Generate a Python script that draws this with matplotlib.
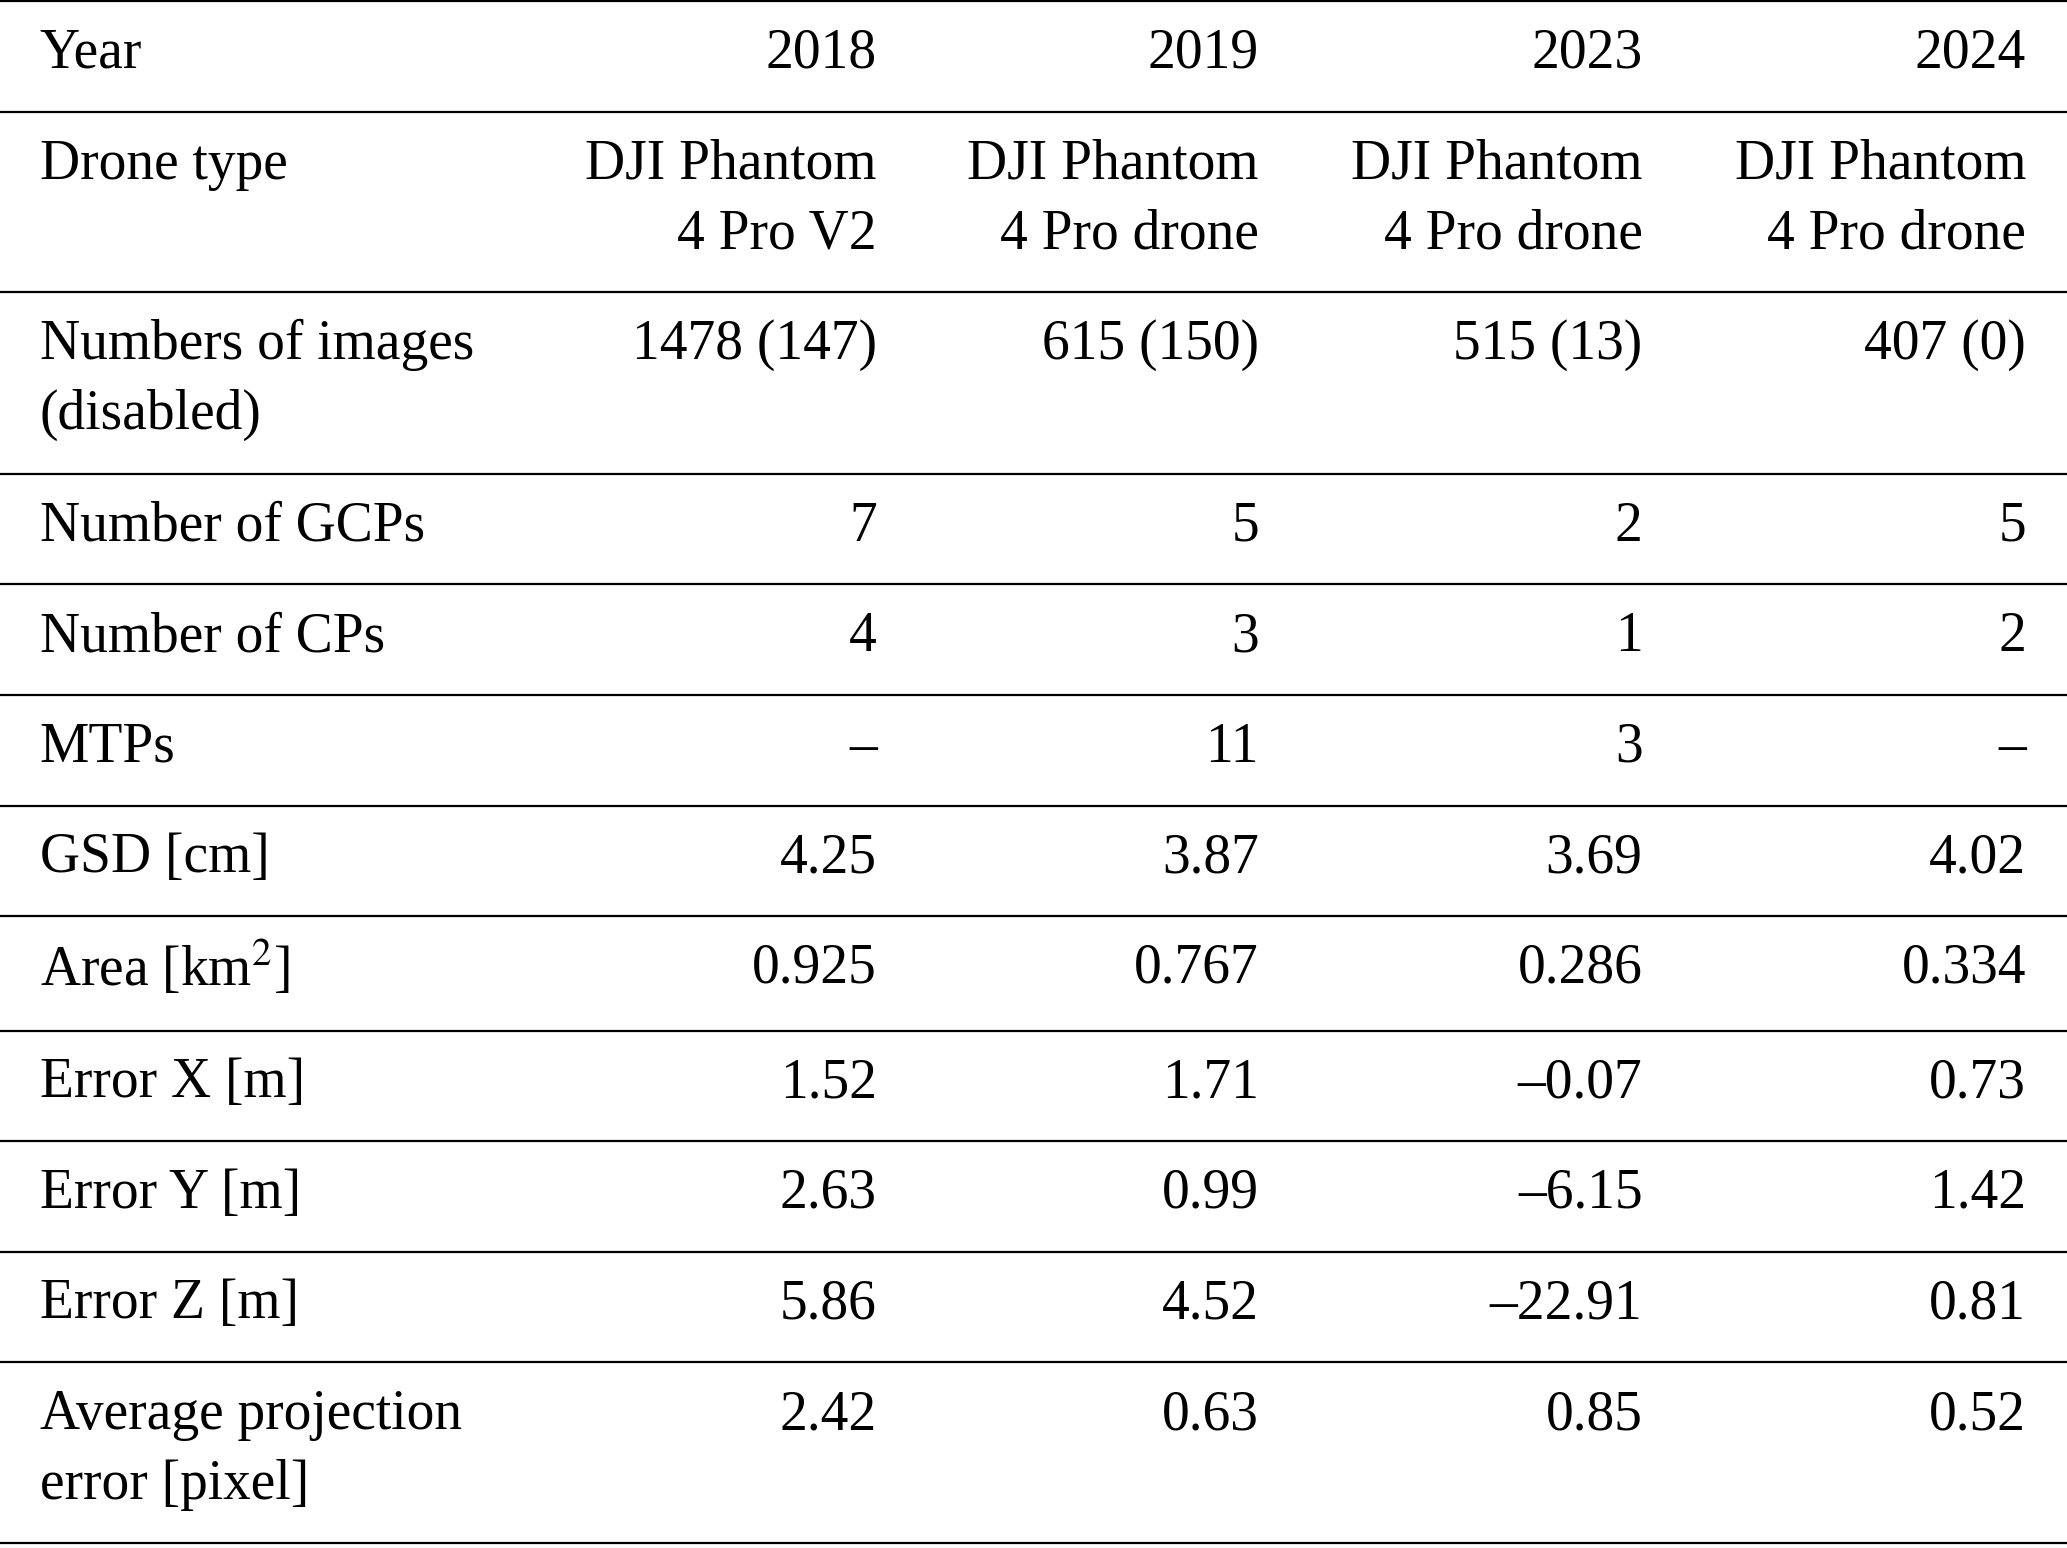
import matplotlib
matplotlib.use("Agg")
import matplotlib.pyplot as plt

plt.rcParams['font.family'] = ['Liberation Serif', 'DejaVu Serif']
plt.rcParams['mathtext.fontset'] = 'stix'

years = ["2018", "2019", "2023", "2024"]
row_labels = [
    "Drone type",
    "Numbers of images\n(disabled)",
    "Number of GCPs",
    "Number of CPs",
    "MTPs",
    "GSD [cm]",
    "Area [km$^2$]",
    "Error X [m]",
    "Error Y [m]",
    "Error Z [m]",
    "Average projection\nerror [pixel]",
]
col_2018 = ["DJI Phantom\n4 Pro V2", "1478 (147)", "7", "4", "–", "4.25", "0.925", "1.52", "2.63", "5.86", "2.42"]
col_2019 = ["DJI Phantom\n4 Pro drone", "615 (150)", "5", "3", "11", "3.87", "0.767", "1.71", "0.99", "4.52", "0.63"]
col_2023 = ["DJI Phantom\n4 Pro drone", "515 (13)", "2", "1", "3", "3.69", "0.286", "–0.07", "–6.15", "–22.91", "0.85"]
col_2024 = ["DJI Phantom\n4 Pro drone", "407 (0)", "5", "2", "–", "4.02", "0.334", "0.73", "1.42", "0.81", "0.52"]

# layout in reference pixel units (1568 x 1176)
W, H = 1568, 1176
lines_y = [1, 85, 222, 360, 444, 528, 612, 696, 783, 867, 951, 1035, 1172]
col_right = [665, 955, 1246, 1537]
left_x = 30
fs = 40

fig = plt.figure(figsize=(20.67, 15.48), dpi=100)
ax = fig.add_axes([0, 0, 1, 1])
ax.set_xlim(0, W)
ax.set_ylim(H, 0)
ax.axis('off')

for y in lines_y:
    ax.plot([0, W], [y, y], color='black', lw=1.6)

def put_row(top, label, values):
    for i, part in enumerate(label.split("\n")):
        ax.text(left_x, top + 40 + 53 * i, part, fontsize=fs, ha='left', va='center')
    for x, v in zip(col_right, values):
        for i, part in enumerate(v.split("\n")):
            ax.text(x, top + 40 + 53 * i, part, fontsize=fs, ha='right', va='center')

put_row(lines_y[0], "Year", years)
cols = [col_2018, col_2019, col_2023, col_2024]
for r, label in enumerate(row_labels):
    put_row(lines_y[r + 1], label, [c[r] for c in cols])

fig.savefig("out.png", dpi=100)
